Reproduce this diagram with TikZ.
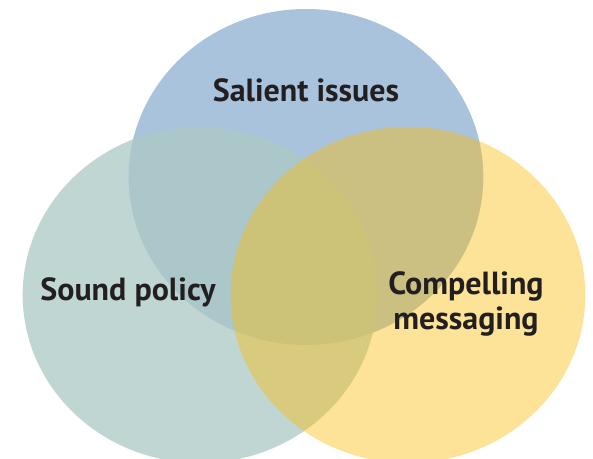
\documentclass[tikz,border=0pt]{standalone}
\usepackage{fontspec}
\setmainfont{PT Sans}
\usetikzlibrary{shapes.geometric}

\definecolor{issuesblue}{RGB}{169,195,220}
\definecolor{policygreen}{RGB}{172,201,197}
\definecolor{messageyellow}{RGB}{250,190,13}
\definecolor{labelink}{RGB}{35,31,32}

\tikzset{
    setshape/.style={ellipse, draw=none, inner sep=0pt, outer sep=0pt,
        minimum width=266pt, minimum height=252pt},
    setlabel/.style={text=labelink, align=center,
        font=\fontsize{24}{26}\selectfont\bfseries}
}

\begin{document}
\begin{tikzpicture}[x=0.75pt, y=-0.75pt]
    \useasboundingbox (0, 0) rectangle (593, 459);
    \clip (0, 0) rectangle (593, 459);

    % The three sets
    \node[setshape, fill=issuesblue] (issues) at (306, 177) {};
    \node[setshape, fill=policygreen, fill opacity=0.76] (policy) at (200, 295) {};
    \node[setshape, fill=messageyellow, fill opacity=0.43] (messaging) at (408, 295) {};

    % Labels
    \node[setlabel] (issueslabel) at (306, 90) {Salient issues};
    \node[setlabel] (policylabel) at (128, 292) {Sound policy};
    \node[setlabel] (messaginglabel) at (466, 304) {Compelling\\messaging};
\end{tikzpicture}
\end{document}
